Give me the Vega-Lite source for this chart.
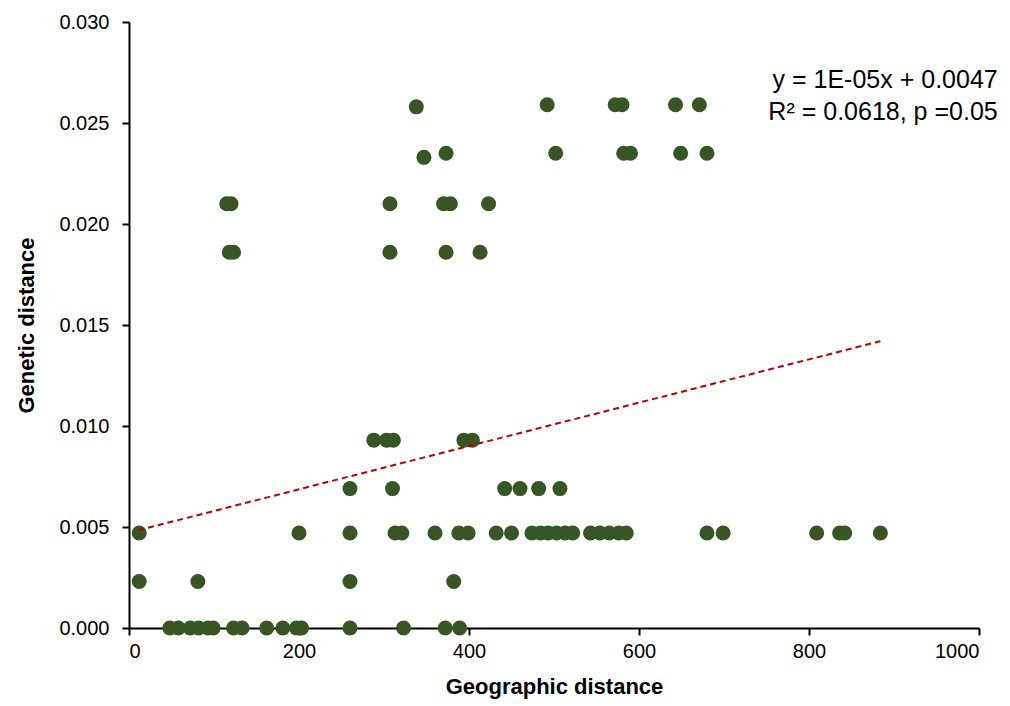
{
  "$schema": "https://vega.github.io/schema/vega-lite/v6.json",
  "width": 850,
  "height": 606,
  "autosize": {"type": "none"},
  "padding": {"left": 129, "top": 22, "right": 31, "bottom": 78},
  "background": "white",
  "config": {
    "view": {"stroke": null},
    "font": "Liberation Sans",
    "axis": {
      "grid": false,
      "domainColor": "black",
      "domainWidth": 2,
      "tickColor": "black",
      "tickWidth": 2,
      "tickSize": 7,
      "labelFont": "Liberation Sans",
      "labelFontSize": 20,
      "labelColor": "black",
      "titleFont": "Liberation Sans",
      "titleFontSize": 22,
      "titleFontWeight": "bold",
      "titleColor": "black"
    }
  },
  "datasets": {
    "points": [
      {"geo": 48, "gen": 0}, {"geo": 58, "gen": 0}, {"geo": 72, "gen": 0}, {"geo": 82, "gen": 0},
      {"geo": 93, "gen": 0}, {"geo": 99, "gen": 0}, {"geo": 123, "gen": 0}, {"geo": 133, "gen": 0},
      {"geo": 162, "gen": 0}, {"geo": 181, "gen": 0}, {"geo": 197, "gen": 0}, {"geo": 203, "gen": 0},
      {"geo": 260, "gen": 0}, {"geo": 323, "gen": 0}, {"geo": 372, "gen": 0}, {"geo": 389, "gen": 0},
      {"geo": 12, "gen": 0.0023}, {"geo": 81, "gen": 0.0023}, {"geo": 260, "gen": 0.0023}, {"geo": 382, "gen": 0.0023},
      {"geo": 12, "gen": 0.0047}, {"geo": 200, "gen": 0.0047}, {"geo": 260, "gen": 0.0047}, {"geo": 313, "gen": 0.0047},
      {"geo": 321, "gen": 0.0047}, {"geo": 360, "gen": 0.0047}, {"geo": 388, "gen": 0.0047}, {"geo": 399, "gen": 0.0047},
      {"geo": 432, "gen": 0.0047}, {"geo": 450, "gen": 0.0047}, {"geo": 474, "gen": 0.0047}, {"geo": 484, "gen": 0.0047},
      {"geo": 493, "gen": 0.0047}, {"geo": 503, "gen": 0.0047}, {"geo": 513, "gen": 0.0047}, {"geo": 522, "gen": 0.0047},
      {"geo": 543, "gen": 0.0047}, {"geo": 554, "gen": 0.0047}, {"geo": 565, "gen": 0.0047}, {"geo": 576, "gen": 0.0047},
      {"geo": 585, "gen": 0.0047}, {"geo": 680, "gen": 0.0047}, {"geo": 699, "gen": 0.0047}, {"geo": 809, "gen": 0.0047},
      {"geo": 836, "gen": 0.0047}, {"geo": 842, "gen": 0.0047}, {"geo": 884, "gen": 0.0047},
      {"geo": 260, "gen": 0.0069}, {"geo": 310, "gen": 0.0069}, {"geo": 442, "gen": 0.0069}, {"geo": 460, "gen": 0.0069},
      {"geo": 482, "gen": 0.0069}, {"geo": 507, "gen": 0.0069},
      {"geo": 288, "gen": 0.0093}, {"geo": 303, "gen": 0.0093}, {"geo": 311, "gen": 0.0093}, {"geo": 394, "gen": 0.0093},
      {"geo": 404, "gen": 0.0093},
      {"geo": 118, "gen": 0.0186}, {"geo": 123, "gen": 0.0186}, {"geo": 307, "gen": 0.0186}, {"geo": 373, "gen": 0.0186},
      {"geo": 413, "gen": 0.0186},
      {"geo": 115, "gen": 0.021}, {"geo": 120, "gen": 0.021}, {"geo": 307, "gen": 0.021}, {"geo": 370, "gen": 0.021},
      {"geo": 378, "gen": 0.021}, {"geo": 423, "gen": 0.021},
      {"geo": 347, "gen": 0.0233},
      {"geo": 373, "gen": 0.0235}, {"geo": 502, "gen": 0.0235}, {"geo": 582, "gen": 0.0235}, {"geo": 590, "gen": 0.0235},
      {"geo": 649, "gen": 0.0235}, {"geo": 680, "gen": 0.0235},
      {"geo": 338, "gen": 0.0258}, {"geo": 492, "gen": 0.0259}, {"geo": 572, "gen": 0.0259}, {"geo": 580, "gen": 0.0259},
      {"geo": 643, "gen": 0.0259}, {"geo": 671, "gen": 0.0259}
    ],
    "trend": [
      {"geo": 11, "gen": 0.00484},
      {"geo": 884, "gen": 0.0142}
    ],
    "notes": [
      {"geo": 1022, "gen": 0.02715, "label": "y = 1E-05x + 0.0047"},
      {"geo": 1022, "gen": 0.02555, "label": "R² = 0.0618, p =0.05"}
    ]
  },
  "layer": [
    {
      "data": {"name": "points"},
      "mark": {"type": "circle", "size": 225, "color": "#375623", "opacity": 1},
      "encoding": {
        "x": {
          "field": "geo", "type": "quantitative",
          "scale": {"domain": [0, 1000], "nice": false},
          "axis": {"values": [0, 200, 400, 600, 800, 1000], "format": "d", "title": "Geographic distance", "titlePadding": 15, "labelPadding": 6}
        },
        "y": {
          "field": "gen", "type": "quantitative",
          "scale": {"domain": [0, 0.03], "nice": false},
          "axis": {"values": [0, 0.005, 0.01, 0.015, 0.02, 0.025, 0.03], "format": ".3f", "title": "Genetic distance", "titlePadding": 20, "labelPadding": 13}
        }
      }
    },
    {
      "data": {"name": "trend"},
      "mark": {"type": "line", "color": "#C00000", "strokeWidth": 2, "strokeDash": [6, 4]},
      "encoding": {
        "x": {"field": "geo", "type": "quantitative"},
        "y": {"field": "gen", "type": "quantitative"}
      }
    },
    {
      "data": {"name": "notes"},
      "mark": {"type": "text", "align": "right", "baseline": "middle", "fontSize": 25, "color": "black", "font": "Liberation Sans"},
      "encoding": {
        "x": {"field": "geo", "type": "quantitative"},
        "y": {"field": "gen", "type": "quantitative"},
        "text": {"field": "label"}
      }
    }
  ]
}
